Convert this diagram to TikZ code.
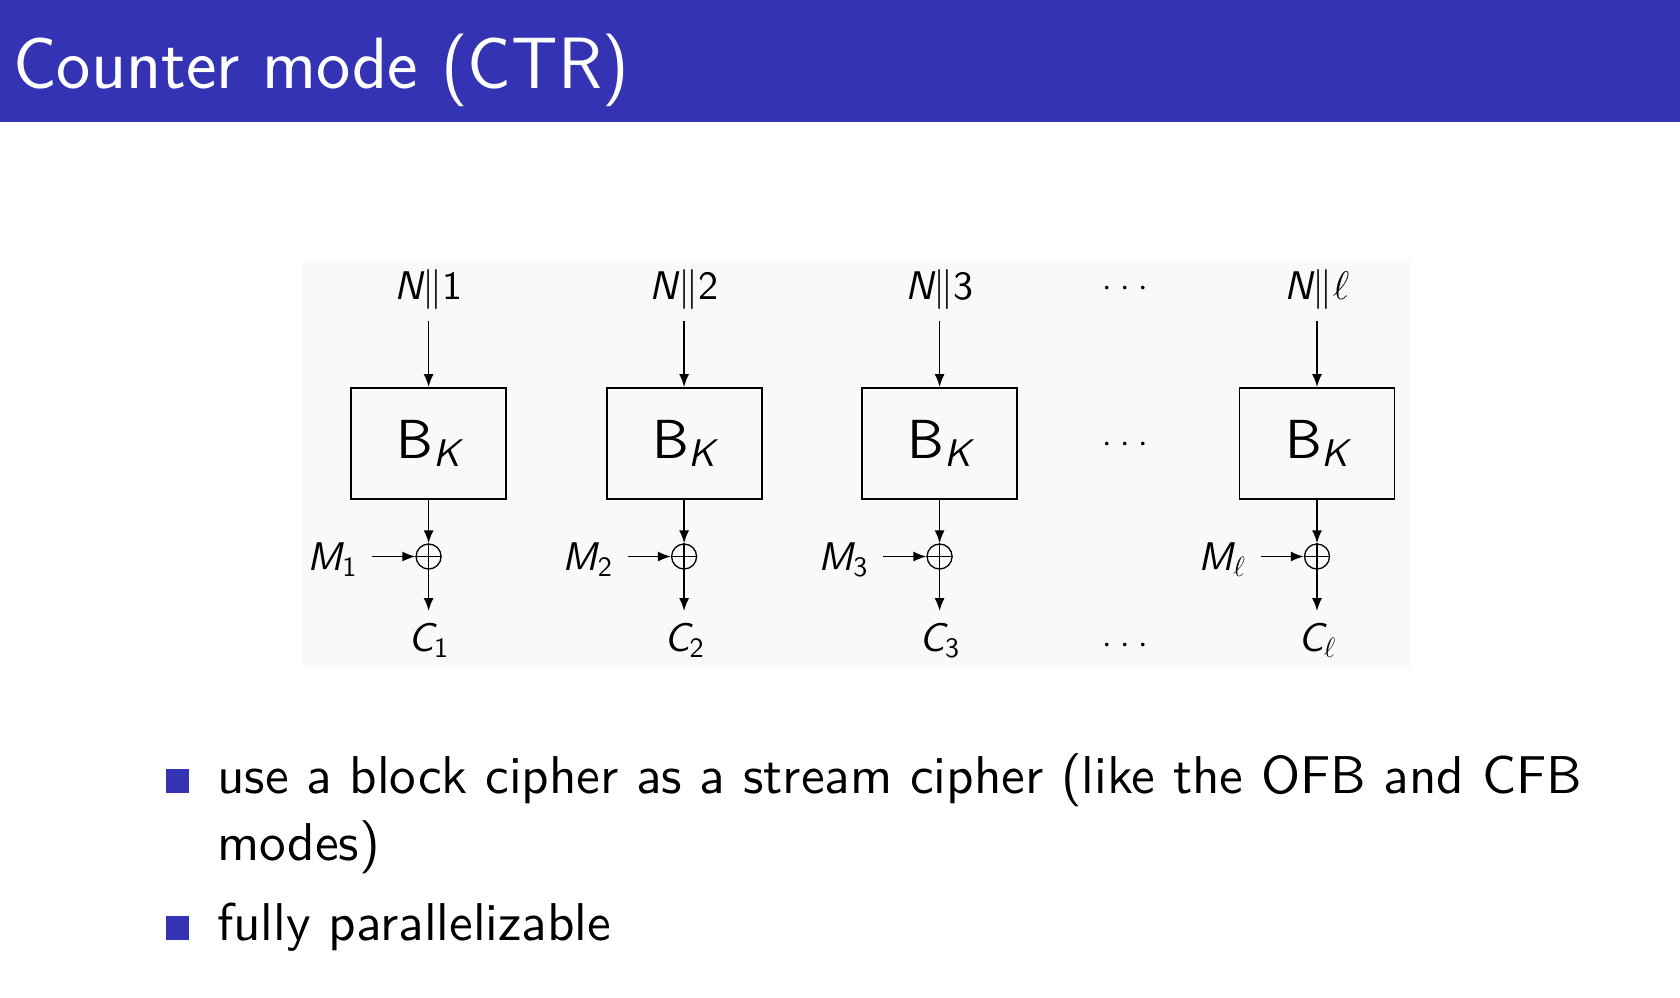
\RequirePackage{fix-cm}
\documentclass[tikz,border=0pt]{standalone}
\usepackage{amsmath}
\usepackage{fontspec}
\usetikzlibrary{arrows.meta}

% Latin Modern Sans cuts used on the slide
\newfontfamily\titlefont{lmsans17-regular.otf}
\newfontfamily\bodyfont{lmsans10-regular.otf}
\newfontfamily\slfont{lmsans10-oblique.otf}
% sans variables and sans digits inside formulas
\newcommand\sv[1]{\text{\slfont #1}}
\newcommand\sd[1]{\text{\bodyfont #1}}

\definecolor{structure}{RGB}{51,51,179}
\definecolor{panel}{RGB}{249,249,249}

\begin{document}
\begin{tikzpicture}[x=1pt,y=-1pt,
  lbl/.style={inner sep=0pt, font=\fontsize{40}{46}\selectfont},
  cipher/.style={draw, line width=1.8pt, minimum width=155pt, minimum height=111pt,
    inner sep=0pt, font=\fontsize{55}{60}\selectfont},
  xorop/.style={circle, draw, line width=1.3pt, minimum size=25pt, inner sep=0pt},
  flow/.style={line width=1.7pt, -{Latex[length=13pt,width=10pt]}},
  bulletsq/.style={fill=structure, minimum width=23pt, minimum height=24pt, inner sep=0pt},
  itemtext/.style={anchor=base west, inner sep=0pt, font=\bodyfont\fontsize{53.2}{67}\selectfont},
  dotrow/.style={inner sep=0pt, anchor=base, font=\fontsize{34}{40}\selectfont}
]
% page and frame title bar
\fill[white] (0,0) rectangle (1680,997);
\useasboundingbox (0,0) rectangle (1680,997);
\fill[structure] (0,0) rectangle (1680,122);
\node[anchor=base west, inner sep=0pt, text=white,
  font=\titlefont\fontsize{72.7}{86}\selectfont] (title) at (13,88) {Counter mode (CTR)};

% light panel behind the CTR chain
\fill[panel] (303,260) rectangle (1410,668);

% one column per counter block
\foreach \i/\x/\k in {1/428.6/\sd{1}, 2/684.1/\sd{2}, 3/939.6/\sd{3}, 4/1317/\ell} {
  \node[lbl, anchor=base] (N\i) at (\x,299) {$\sv{N}\|\k$};
  \node[cipher] (B\i) at (\x,443.5) {$\sd{B}_{\sv{K}}$};
  \node[xorop] (X\i) at (\x,556.5) {};
  \node[lbl, anchor=base east] (M\i) at (\x-71.5,570) {$\sv{M}_{\k}$};
  \node[lbl, anchor=base] (C\i) at (\x,651) {$\sv{C}_{\k}$};
  \draw[flow, shorten <=11.7pt] (N\i.south) -- (B\i.north);
  \draw[flow] (B\i.south) -- (X\i.north);
  \draw[flow, shorten <=15pt] (M\i.east |- X\i.west) -- (X\i.west);
  \draw[line width=1.3pt] (X\i.west) -- (X\i.east);
  \draw[flow, shorten >=11.5pt] (X\i.north) -- (C\i.north);
}

% ellipsis between the third and the last block
\node[dotrow] (d1) at (1125,296) {${\cdot}\hspace{8.8pt}{\cdot}\hspace{8.8pt}{\cdot}$};
\node[dotrow] (d2) at (1125,452) {${\cdot}\hspace{8.8pt}{\cdot}\hspace{8.8pt}{\cdot}$};
\node[dotrow] (d3) at (1125,653) {${\cdot}\hspace{8.8pt}{\cdot}\hspace{8.8pt}{\cdot}$};

% itemize
\node[bulletsq] (s1) at (177.7,781.3) {};
\node[itemtext, text width=1450pt, align=left] (t1) at (217,793)
  {use a block cipher as a stream cipher (like the OFB and CFB\\modes)};
\node[bulletsq] (s2) at (177.7,928) {};
\node[itemtext] (t2) at (217,940) {fully parallelizable};
\end{tikzpicture}
\end{document}
